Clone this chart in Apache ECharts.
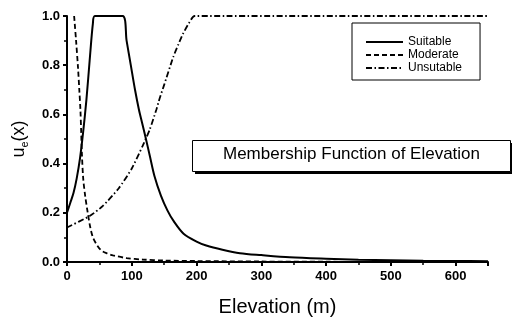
<!DOCTYPE html>
<html><head><meta charset="utf-8">
<script src="https://cdn.jsdelivr.net/npm/echarts@6/dist/echarts.min.js"></script>
<style>html,body{margin:0;padding:0;background:#fff}#c{width:512px;height:322px}</style>
</head><body><div id="c"></div>
<script>
var seriesNames = ['Suitable', 'Moderate', 'Unsutable'];
var suitableX = [0,5,10,15,20,25,30,35,40,43,86,92,98.5,105,111,116,121,128,135,145,155,165,180,200,215,240,267,300,344,400,450,500,550,600,650];
var suitableY = [0.2,0.24,0.28,0.34,0.42,0.53,0.66,0.82,0.97,1.0,1.0,0.9,0.8,0.7,0.62,0.565,0.51,0.43,0.35,0.27,0.21,0.165,0.115,0.083,0.067,0.05,0.036,0.028,0.019,0.013,0.009,0.007,0.005,0.004,0.003];
var moderateX = [11,14,17,19,20.7,22,23,25,28,32,36,40,46,53,62,71,92,117,150,200,300,400,500,650];
var moderateY = [1.0,0.9,0.79,0.7,0.62,0.52,0.44,0.34,0.27,0.2,0.14,0.1,0.07,0.047,0.035,0.027,0.016,0.01,0.006,0.004,0.002,0.001,0.0005,0.0002];
var unsuitX = [0,35,55,80,100,117,128,138,143,150,164,172,179,188,197,650];
var unsuitY = [0.14,0.187,0.227,0.3,0.38,0.473,0.54,0.62,0.665,0.72,0.833,0.885,0.927,0.97,1.0,1.0];
var xTicks = [0,100,200,300,400,500,600];
var yTicks = [0.0,0.2,0.4,0.6,0.8,1.0];
var titleText = 'Membership Function of Elevation';

function pairs(xs, ys){ return xs.map(function(x,i){return [x, ys[i]];}); }
var chart = echarts.init(document.getElementById('c'));
var F = 'Liberation Sans, Arial, sans-serif';
chart.setOption({
  animation: false,
  grid: {left: 67, top: 16, right: 24, bottom: 57},
  xAxis: {
    type: 'value', min: 0, max: 650, interval: 100,
    name: 'Elevation (m)', nameLocation: 'middle', nameGap: 35,
    nameTextStyle: {fontFamily: F, fontSize: 20, color: '#000'},
    axisLine: {lineStyle: {color: '#000', width: 2}},
    axisTick: {length: 4, lineStyle: {color: '#000', width: 2}},
    minorTick: {show: true, splitNumber: 2, length: 3, lineStyle: {color: '#000', width: 1.5}},
    splitLine: {show: false},
    axisLabel: {fontFamily: F, fontSize: 13, fontWeight: 'bold', color: '#000', margin: 8,
      formatter: function(v){ return xTicks.indexOf(v) >= 0 ? String(v) : ''; }}
  },
  yAxis: {
    type: 'value', min: 0, max: 1, interval: 0.2,
    name: 'u{s|e}(x)', nameLocation: 'middle', nameGap: 37, nameRotate: 90,
    nameTextStyle: {fontFamily: F, fontSize: 18, color: '#000',
      rich: {s: {fontFamily: F, fontSize: 11, color: '#000', padding: [10,0,0,0]}}},
    axisLine: {show: true, lineStyle: {color: '#000', width: 2}},
    axisTick: {show: true, length: 4, lineStyle: {color: '#000', width: 2}},
    minorTick: {show: true, splitNumber: 2, length: 3, lineStyle: {color: '#000', width: 1.5}},
    splitLine: {show: false},
    axisLabel: {fontFamily: F, fontSize: 13, fontWeight: 'bold', color: '#000', margin: 7,
      formatter: function(v){ return v.toFixed(1); }}
  },
  legend: {
    orient: 'vertical', left: 352, top: 23,
    padding: [13, 18, 6, 13], itemGap: 1, itemWidth: 37, itemHeight: 14,
    borderColor: '#000', borderWidth: 1, backgroundColor: '#fff',
    textStyle: {fontFamily: F, fontSize: 12, color: '#000'},
    itemStyle: {opacity: 0},
    data: seriesNames
  },
  graphic: [
    {type: 'rect', left: 195, top: 143, shape: {width: 318, height: 31}, style: {fill: '#000'}, z: 10},
    {type: 'rect', left: 192, top: 140, shape: {width: 318, height: 31}, style: {fill: '#fff', stroke: '#000', lineWidth: 1}, z: 11},
    {type: 'text', left: 223, top: 146, style: {text: titleText, font: '17px ' + F, fill: '#000'}, z: 12}
  ],
  series: [
    {name: seriesNames[0], type: 'line', data: pairs(suitableX, suitableY), symbol: 'none', smooth: 0.3,
      lineStyle: {color: '#000', width: 2, type: 'solid'}, itemStyle: {color: '#000'}},
    {name: seriesNames[1], type: 'line', data: pairs(moderateX, moderateY), symbol: 'none', smooth: 0.3,
      lineStyle: {color: '#000', width: 1.8, type: [5, 3]}, itemStyle: {color: '#000'}},
    {name: seriesNames[2], type: 'line', data: pairs(unsuitX, unsuitY), symbol: 'none', smooth: 0.2,
      lineStyle: {color: '#000', width: 1.8, type: [6, 2.5, 1.5, 2.5]}, itemStyle: {color: '#000'}}
  ]
});
</script></body></html>
